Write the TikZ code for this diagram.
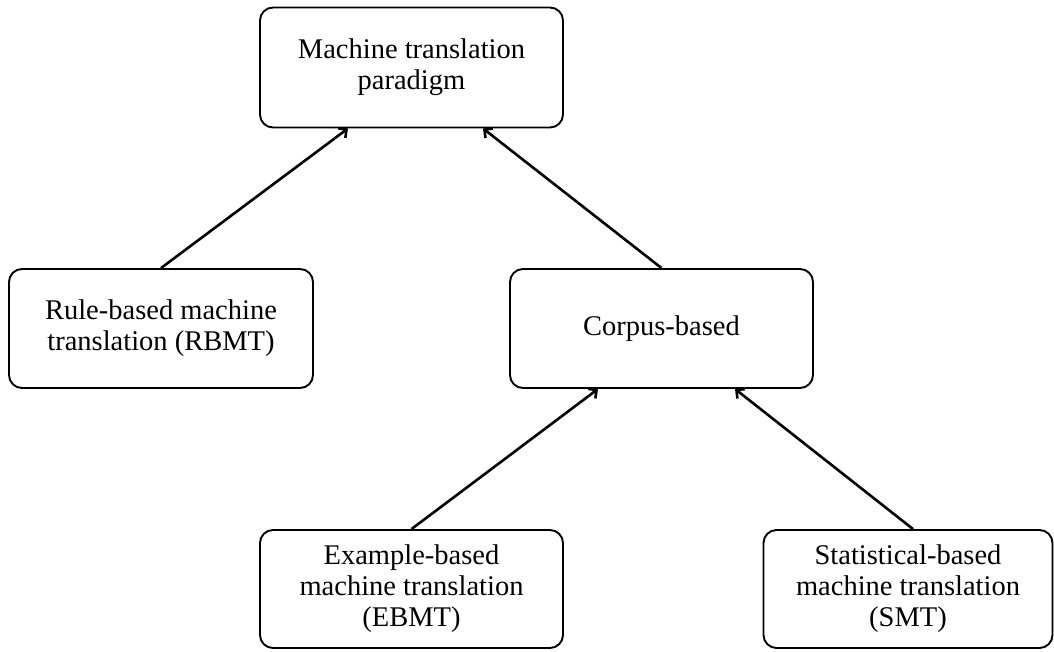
\documentclass[tikz,border=0pt]{standalone}
\usepackage{fontspec}
\setmainfont{Liberation Serif}
\usetikzlibrary{arrows.meta}
\begin{document}
\begin{tikzpicture}[x=1pt,y=-1pt,
  box/.style={draw, line width=1.9pt, rounded corners=13pt, align=center,
    inner sep=0pt, font=\fontsize{28.5}{31}\selectfont},
  link/.style={line width=2.6pt, -{Straight Barb[length=6pt,width=12pt,line width=2.6pt]}}]
  \useasboundingbox (0,0) rectangle (1054,651);

  \node[box, minimum width=303pt, minimum height=120pt] (top) at (411.5,67.5)
    {Machine translation\\paradigm};
  \node[box, minimum width=304pt, minimum height=119pt] (rbmt) at (161,328.5)
    {Rule-based machine\\translation (RBMT)};
  \node[box, minimum width=303pt, minimum height=119pt] (corpus) at (661.5,328.5)
    {Corpus-based};
  \node[box, minimum width=303pt, minimum height=118pt] (ebmt) at (411.5,589)
    {Example-based\\machine translation\\(EBMT)};
  \node[box, minimum width=289pt, minimum height=118pt] (smt) at (908,589)
    {Statistical-based\\machine translation\\(SMT)};

  \draw[link] (rbmt.north) -- ([xshift=-63.5pt]top.south);
  \draw[link] (corpus.north) -- ([xshift=71.5pt]top.south);
  \draw[link] (ebmt.north) -- ([xshift=-63.5pt]corpus.south);
  \draw[link] ([xshift=5pt]smt.north) -- ([xshift=73.5pt]corpus.south);
\end{tikzpicture}
\end{document}
